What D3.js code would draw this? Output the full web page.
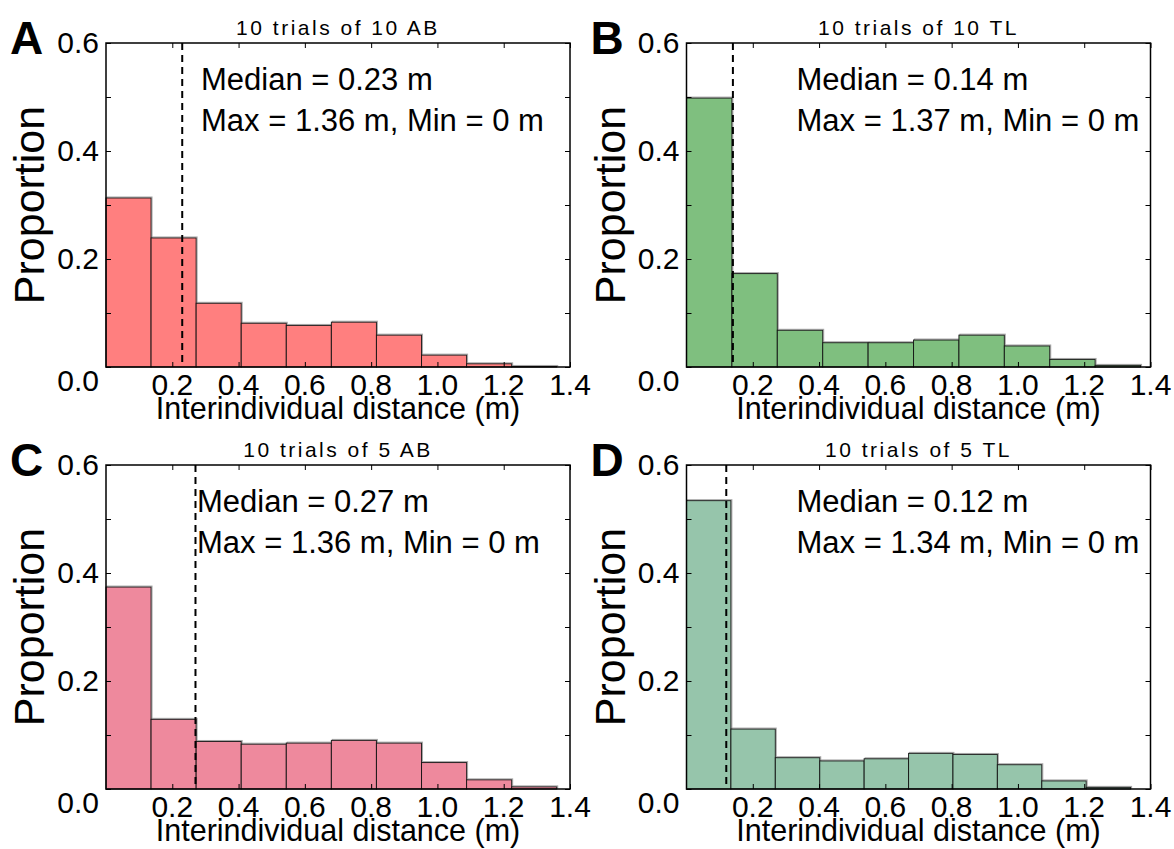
<!DOCTYPE html>
<html>
<head>
<meta charset="utf-8">
<script src="https://cdn.jsdelivr.net/npm/d3@7"></script>
<style>
  html, body { margin: 0; padding: 0; background: #fff; }
  svg { display: block; }
  text { font-family: "Liberation Sans", Arial, sans-serif; fill: #000; }
</style>
</head>
<body>
<svg id="chart" width="1174" height="849"></svg>
<script>
// ---------------- data ----------------
const panelLetters = ["A", "B", "C", "D"];
const panelTitles = ["10 trials of 10 AB", "10 trials of 10 TL", "10 trials of 5 AB", "10 trials of 5 TL"];
const binWidths = [0.136, 0.137, 0.136, 0.134];
const valuesA = [0.313, 0.239, 0.118, 0.081, 0.077, 0.083, 0.059, 0.022, 0.006, 0.001];
const valuesB = [0.498, 0.173, 0.068, 0.045, 0.045, 0.050, 0.059, 0.039, 0.014, 0.003];
const valuesC = [0.374, 0.129, 0.088, 0.083, 0.085, 0.090, 0.085, 0.049, 0.017, 0.004];
const valuesD = [0.534, 0.111, 0.058, 0.052, 0.056, 0.066, 0.064, 0.045, 0.015, 0.003];
const medians = [0.23, 0.14, 0.27, 0.12];
const maxima = [1.36, 1.37, 1.36, 1.34];
const minima = [0, 0, 0, 0];
const xTickValues = [0.2, 0.4, 0.6, 0.8, 1.0, 1.2, 1.4];
const yTickValues = [0, 0.1, 0.2, 0.3, 0.4, 0.5, 0.6];
const yTickLabelValues = [0.0, 0.2, 0.4, 0.6];
const xLabel = "Interindividual distance (m)";
const yLabel = "Proportion";

// ---------------- style / layout ----------------
const barColors = ["#ff7f7f", "#7fbf7f", "#ee899d", "#96c5ab"];
const origins = [{x: 106, y: 43}, {x: 686.5, y: 43}, {x: 106, y: 465}, {x: 686.5, y: 465}];
const annotDx = [95, 110, 91, 110];
const W = 464, H = 324;
const allValues = [valuesA, valuesB, valuesC, valuesD];

const svg = d3.select("#chart");

allValues.forEach((vals, p) => {
  const o = origins[p];
  const g = svg.append("g").attr("transform", `translate(${o.x},${o.y})`);
  const x = d3.scaleLinear().domain([0, 1.4]).range([0, W]);
  const y = d3.scaleLinear().domain([0, 0.6]).range([H, 0]);
  const bw = binWidths[p];

  const bins = vals.map((v, i) => ({x0: i * bw, x1: (i + 1) * bw, v}));

  // faint grey shadow outline
  g.selectAll("rect.shadow").data(bins).join("rect")
    .attr("class", "shadow")
    .attr("x", d => x(d.x0) + 1)
    .attr("y", d => y(d.v) - 1)
    .attr("width", d => x(d.x1) - x(d.x0))
    .attr("height", d => y(0) - y(d.v))
    .attr("fill", "none")
    .attr("stroke", "#aaa")
    .attr("stroke-width", 1);

  g.selectAll("rect.bar").data(bins).join("rect")
    .attr("class", "bar")
    .attr("x", d => x(d.x0))
    .attr("y", d => y(d.v))
    .attr("width", d => x(d.x1) - x(d.x0))
    .attr("height", d => y(0) - y(d.v))
    .attr("fill", barColors[p])
    .attr("stroke", "#111")
    .attr("stroke-opacity", 0.9)
    .attr("stroke-width", 1);

  // median dashed line
  g.append("line")
    .attr("x1", x(medians[p])).attr("x2", x(medians[p]))
    .attr("y1", y(0.6)).attr("y2", y(0))
    .attr("stroke", "#000")
    .attr("stroke-width", 2)
    .attr("stroke-dasharray", "7,5");

  // inward ticks on all 4 sides
  const tickLen = 5;
  const axB = d3.axisBottom(x).tickValues(xTickValues).tickSizeInner(-tickLen).tickSizeOuter(0).tickFormat("");
  const axT = d3.axisTop(x).tickValues(xTickValues).tickSizeInner(-tickLen).tickSizeOuter(0).tickFormat("");
  const axL = d3.axisLeft(y).tickValues(yTickValues).tickSizeInner(-tickLen).tickSizeOuter(0).tickFormat("");
  const axR = d3.axisRight(y).tickValues(yTickValues).tickSizeInner(-tickLen).tickSizeOuter(0).tickFormat("");
  [[axB, `translate(0,${H})`], [axT, "translate(0,0)"], [axL, "translate(0,0)"], [axR, `translate(${W},0)`]]
    .forEach(([ax, tr]) => {
      const a = g.append("g").attr("transform", tr).call(ax);
      a.select(".domain").remove();
      a.selectAll("line").attr("stroke", "#000").attr("stroke-width", 1);
    });

  // frame
  g.append("rect").attr("x", 0).attr("y", 0).attr("width", W).attr("height", H)
    .attr("fill", "none").attr("stroke", "#000").attr("stroke-width", 1.5);

  // x tick labels
  g.selectAll("text.xtl").data(xTickValues).join("text")
    .attr("class", "xtl")
    .attr("x", d => x(d))
    .attr("y", H + 28)
    .attr("text-anchor", "middle")
    .attr("font-size", 30)
    .text(d => d3.format(".1f")(d));

  // y tick labels
  g.selectAll("text.ytl").data(yTickLabelValues).join("text")
    .attr("class", "ytl")
    .attr("x", -7)
    .attr("y", d => d === 0 ? y(d) + 24 : y(d) + 10)
    .attr("text-anchor", "end")
    .attr("font-size", 30)
    .text(d => d3.format(".1f")(d));

  // x label
  g.append("text")
    .attr("x", W / 2).attr("y", H + 52)
    .attr("text-anchor", "middle")
    .attr("font-size", 30.5)
    .text(xLabel);

  // y label
  svg.append("text")
    .attr("transform", `translate(${o.x - 62},${o.y + H / 2}) rotate(-90)`)
    .attr("text-anchor", "middle")
    .attr("font-size", 43)
    .text(yLabel);

  // title
  g.append("text")
    .attr("x", W / 2).attr("y", -8)
    .attr("text-anchor", "middle")
    .attr("font-size", 21)
    .attr("letter-spacing", 2.5)
    .text(panelTitles[p]);

  // panel letter
  svg.append("text")
    .attr("x", o.x - 96).attr("y", o.y + 11)
    .attr("font-size", 46)
    .attr("font-weight", "bold")
    .text(panelLetters[p]);

  // annotation
  g.append("text")
    .attr("x", annotDx[p]).attr("y", 47)
    .attr("font-size", 31)
    .text(`Median = ${medians[p]} m`);
  g.append("text")
    .attr("x", annotDx[p]).attr("y", 88)
    .attr("font-size", 31)
    .text(`Max = ${maxima[p]} m, Min = ${minima[p]} m`);
});
</script>
</body>
</html>
